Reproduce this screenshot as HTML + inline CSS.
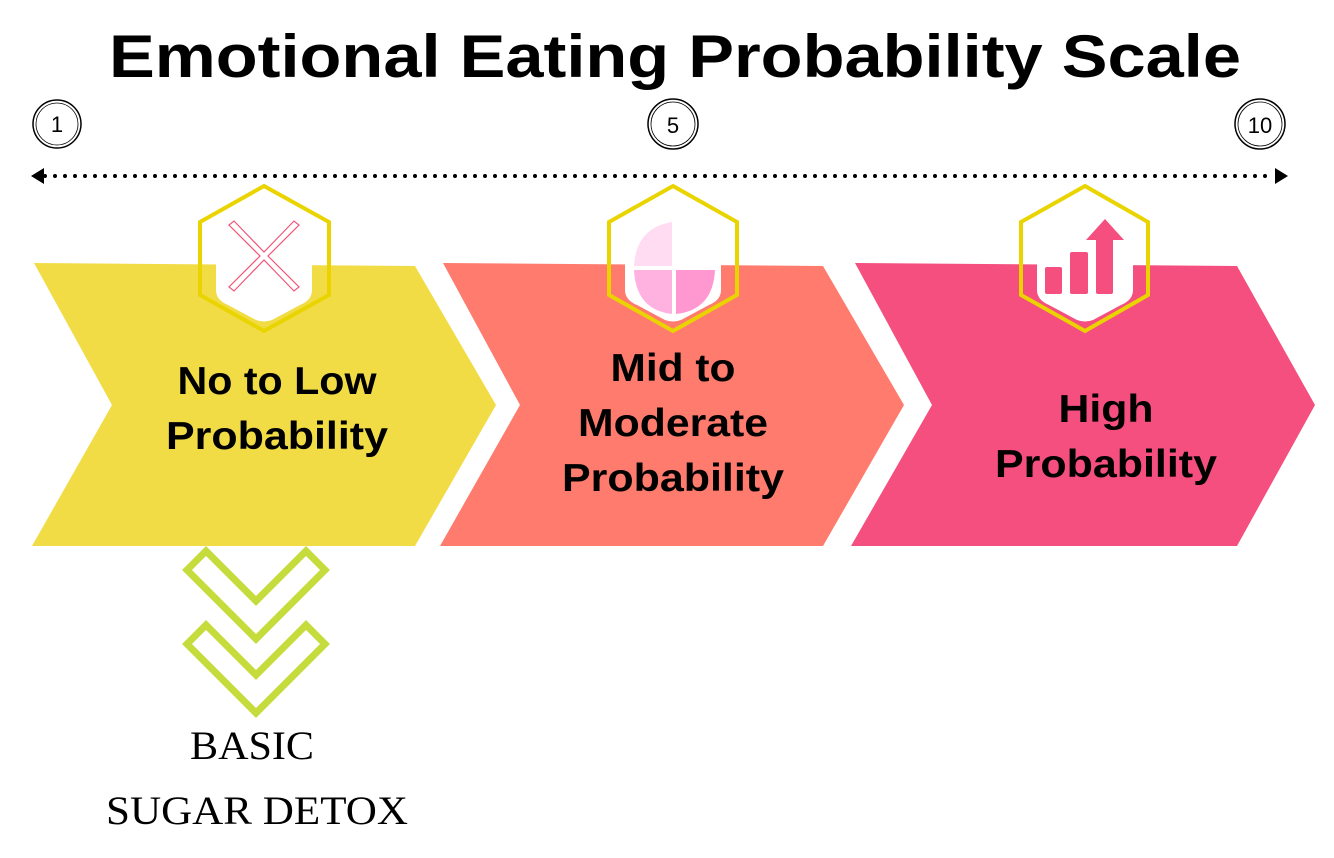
<!DOCTYPE html>
<html><head><style>body{margin:0;background:#fff}svg{display:block}</style></head><body>
<svg width="1334" height="858" viewBox="0 0 1334 858" xmlns="http://www.w3.org/2000/svg">
<text x="675" y="77" text-anchor="middle" font-family="Liberation Sans, sans-serif" font-weight="bold" font-size="60" fill="#000" textLength="1132" lengthAdjust="spacingAndGlyphs">Emotional Eating Probability Scale</text>
<g fill="none" stroke="#000">
<circle cx="57" cy="124" r="24" stroke-width="1.5"/><circle cx="57" cy="124" r="21" stroke-width="0.8"/>
<circle cx="673" cy="124" r="25" stroke-width="1.5"/><circle cx="673" cy="124" r="22" stroke-width="0.8"/>
<circle cx="1260" cy="124" r="25" stroke-width="1.5"/><circle cx="1260" cy="124" r="22" stroke-width="0.8"/>
</g>
<g font-family="Liberation Sans, sans-serif" font-size="22" text-anchor="middle" fill="#000">
<text x="57" y="132">1</text><text x="673" y="133">5</text><text x="1260" y="133">10</text></g>
<line x1="45" y1="176" x2="1275" y2="176" stroke="#000" stroke-width="4" stroke-linecap="round" stroke-dasharray="0 10"/>
<polygon points="31,176 44,168 44,184" fill="#000"/>
<polygon points="1288,176 1275,168 1275,184" fill="#000"/>
<polygon points="34,263 415,266 496,405 415,546 32,546 112,405" fill="#f1dc45"/>
<polygon points="443,263 823,266 904,405 823,546 440,546 520,405" fill="#ff7b6e"/>
<polygon points="855,263 1237,266 1315,405 1237,546 851,546 932,405" fill="#f44f7e"/>
<g fill="#fff">
<path d="M216,263 H312 V290 Q312,300 300,305 L272,320 Q264,323 256,320 L228,305 Q216,300 216,290 Z"/>
<path d="M625,263 H721 V290 Q721,300 709,305 L681,320 Q673,323 665,320 L637,305 Q625,300 625,290 Z"/>
<path d="M1037,263 H1133 V290 Q1133,300 1121,305 L1093,320 Q1085,323 1077,320 L1049,305 Q1037,300 1037,290 Z"/>
</g>
<g fill="none" stroke="#ead400" stroke-width="4">
<polygon points="264,186 329,222 329,295 264,331 200,295 200,222"/>
<polygon points="673,186 737,222 737,295 673,331 609,295 609,222"/>
<polygon points="1085,186 1148,222 1148,295 1085,331 1021,295 1021,222"/>
</g>
<g stroke="#f0557a" stroke-width="1.2" fill="none">
<polygon points="229,225 234,221 264,252 294,221 299,225 268,256 299,287 294,291 264,260 234,291 229,287 260,256"/>
</g>
<path d="M672,222 V266 H634 Q636,228 672,222 Z" fill="#ffdcf1"/>
<path d="M672,270 V314 Q636,310 634,270 Z" fill="#ffb2e0"/>
<path d="M676,270 H715 Q713,310 676,314 Z" fill="#ff97d0"/>
<g fill="#f44f7e">
<rect x="1045" y="267" width="17" height="27" rx="2"/>
<rect x="1070" y="252" width="18" height="42" rx="2"/>
<rect x="1096" y="239" width="17" height="55" rx="2"/>
<polygon points="1086,240 1105,219 1124,240"/>
</g>
<g font-family="Liberation Sans, sans-serif" font-weight="bold" font-size="39" text-anchor="middle" fill="#000">
<text x="277" y="394" textLength="199" lengthAdjust="spacingAndGlyphs">No to Low</text><text x="277" y="449" textLength="222" lengthAdjust="spacingAndGlyphs">Probability</text>
<text x="673" y="381" textLength="125" lengthAdjust="spacingAndGlyphs">Mid to</text><text x="673" y="436" textLength="190" lengthAdjust="spacingAndGlyphs">Moderate</text><text x="673" y="491" textLength="222" lengthAdjust="spacingAndGlyphs">Probability</text>
<text x="1106" y="422" textLength="95" lengthAdjust="spacingAndGlyphs">High</text><text x="1106" y="477" textLength="222" lengthAdjust="spacingAndGlyphs">Probability</text>
</g>
<g fill="none" stroke="#c5dc3c" stroke-width="7">
<path d="M187,570 L206,551 L256,601 L306,551 L325,570 L256,639 Z"/>
<path d="M187,644 L206,625 L256,675 L306,625 L325,644 L256,713 Z"/>
</g>
<g font-family="Liberation Serif, serif" font-size="40" text-anchor="middle" fill="#000">
<text x="252" y="759" textLength="124" lengthAdjust="spacingAndGlyphs">BASIC</text><text x="257" y="824" textLength="302" lengthAdjust="spacingAndGlyphs">SUGAR DETOX</text></g>
</svg>
</body></html>
